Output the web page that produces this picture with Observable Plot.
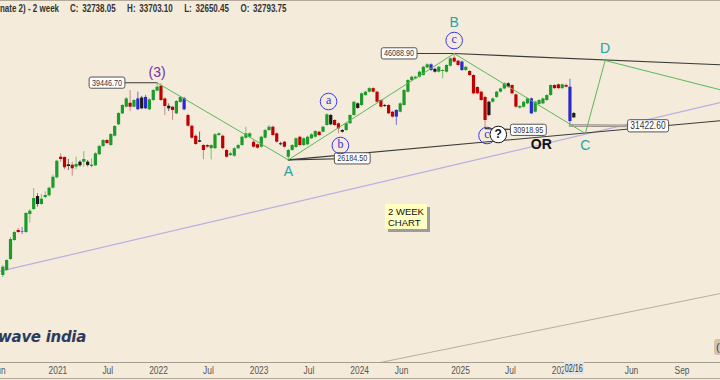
<!DOCTYPE html>
<html><head><meta charset="utf-8">
<script src="https://cdn.jsdelivr.net/npm/d3@7"></script>
<script src="https://cdn.jsdelivr.net/npm/@observablehq/plot@0.6"></script>
<style>
html,body{margin:0;padding:0;background:#f4ebda;}
#wrap{position:relative;width:720px;height:380px;overflow:hidden;background:#f4ebda;font-family:"Liberation Sans",Arial,sans-serif;}
#wrap svg{position:absolute;left:0;top:0;}
.hdr{position:absolute;top:3px;font-family:"Liberation Sans",Arial,sans-serif;font-weight:bold;font-size:10px;color:#333;white-space:nowrap;transform:scaleX(0.8);transform-origin:0 0;}
#title{left:0;}
#ohlc{left:70px;word-spacing:2px;}
#note{position:absolute;left:385px;top:204px;width:36px;height:21px;padding:2px 3px;background:#ffffc2;box-shadow:3px 3px 0 #9c9c9c;font-family:"Liberation Sans",Arial,sans-serif;font-size:9.5px;line-height:11px;color:#111;}
#logo{position:absolute;right:634px;top:328px;font-family:"DejaVu Sans",sans-serif;font-style:italic;font-weight:bold;font-size:15px;color:#2d3b60;white-space:nowrap;letter-spacing:-0.3px;}
#btn{position:absolute;left:714px;top:339px;width:10px;height:16px;background:#d9c59c;border-radius:3px;color:#3030c0;font-size:11px;line-height:16px;padding-left:2px;}
#bline{position:absolute;left:0;top:378px;width:720px;height:1px;background:#b0a898;}
</style></head>
<body><div id="wrap"></div>
<script>
// ---- candles (2-week bars, first bar date, then 14-day steps) ----
const firstBar = "2020-06-15";
const barKind = ["up","up","up","up","down","blue","up","up","up","black",
"up","up","up","up","up","down","down","black","down","up",
"black","up","black","up","up","up","up","down","up","up",
"up","up","up","down","up","blue","black","blue","up","up",
"up","down","down","black","down","up","up","blue","down","down",
"down","black","down","down","up","up","up","down","down","up",
"up","up","up","up","up","down","down","up","up","up",
"down","down","black","down","up","up","up","down","up","up",
"up","up","down","up","up","black","down","down","black","up",
"up","up","black","up","up","up","down","down","down","black",
"down","down","blue","up","up","up","up","up","up","up",
"up","blue","black","up","up","up","up","down","down","blue",
"up","down","down","down","down","down","black","up","up","up",
"up","black","down","down","up","up","up","blue","up","up",
"up","up","up","down","down","up","down","blue","black"];
const barOpen = [14154,14535,15412,17050,17981,17885,17790,19580,20107,21546,
20650,21432,21627,22520,23800,26555,26520,25500,25450,25180,
25860,25860,25860,25275,25370,26900,28110,29022,28260,29692,
31550,33440,34650,35380,34650,34190,36390,34350,34170,35902,
37730,38740,36210,34820,34650,33450,35520,36310,33149,31315,
29692,28980,28260,28260,27790,27790,29804,29692,27518,26796,
26697,27770,28260,29380,29535,28760,28370,28010,29380,30607,
31150,30075,28530,28760,26555,27518,27960,29535,28260,28370,
29290,29535,30330,30330,31432,33149,32279,31720,30607,30607,
31720,33149,35270,34960,36870,37530,38250,37530,35902,34960,
34960,33740,32870,33740,34960,37530,39932,40300,40640,41009,
42700,43410,42380,41740,41900,41740,43090,44950,44260,44050,
42113,41900,41009,38480,37530,36500,33149,35580,36500,37530,
38180,39240,38884,37000,34480,34650,35270,36210,33740,35150,
35270,35902,36870,38884,39030,38250,38884,38540,33500];
const barHigh = [14927,15410,17323,17900,18174,18270,19790,20107,22480,21860,
21776,22090,22640,24130,26130,27040,26600,26250,25860,26560,
26050,27370,26100,26320,27200,28300,29180,29200,30100,31430,
33700,35150,36500,37864,36100,37530,36700,36900,36300,38050,
39446.7,39240,36400,35270,34800,35900,36700,36500,33400,31500,
29900,30350,28400,28400,28400,30100,30250,29900,27700,27300,
27950,28450,29700,31150,30250,29000,28500,29700,30800,31432,
31350,30250,28750,28900,27700,28400,29450,29700,29450,29700,
30100,30600,30500,31300,33450,33350,32450,31900,30750,31900,
33300,35750,35450,37400,37700,38450,38450,37700,36050,35150,
35150,33900,34200,35450,38050,40150,40850,40850,41950,43050,
43650,43650,42600,43050,42300,43450,45050,46088.9,44500,44300,
43050,42100,41200,38650,37700,36700,35750,36400,37700,38350,
39450,39450,39050,37200,34950,35750,36400,36400,35750,36050,
36400,37050,39050,39050,39200,39200,39200,40190,33703.1];
const barLow = [14004,14460,15330,16960,17700,17600,17700,18700,19990,20355,
20539,21280,21500,22400,23650,25860,24840,24741,24000,24830,
25200,25180,25200,25100,25250,26800,27960,28400,28100,29550,
31400,33300,34500,33850,34500,34000,34200,34200,34000,35700,
37600,35700,33149,33850,32279,33300,35400,34000,31150,29200,
28250,28700,26190,27800,26190,27650,29650,27650,26400,26650,
26550,27650,28100,29250,29400,27850,27700,27850,29250,30450,
29650,28600,28200,27850,26184.5,27400,27800,28100,28100,28200,
29150,29400,29650,30200,31300,31400,31300,30075,30200,30450,
31600,33000,34250,34800,36700,37350,37350,35400,34500,34600,
33300,32700,31432,33600,34800,37350,39750,40100,40450,40850,
42500,41900,41550,41550,40300,41550,42900,43850,43050,41900,
41900,40800,37000,37000,35700,30918.95,32950,35400,36300,37350,
38000,38350,37000,34450,34300,34450,35100,33300,33600,35000,
35100,35700,36700,38050,38050,38050,38400,31422.6,32650.45];
const barClose = [14793,15330,17140,17790,17790,17840,19684,19926,21318,20650,
21240,21661,22520,23870,25995,26232,25100,25275,24970,25545,
25370,26232,25408,25450,27040,28110,29022,28560,29962,31265,
33500,34960,36210,34650,35902,36210,34350,36500,36020,37864,
38540,35902,34780,34350,34042,35711,36500,34170,31315,29380,
28410,28760,27518,28020,28260,29915,30075,27790,26555,27040,
27770,28260,29535,30075,30075,28010,27860,29535,30607,31150,
29804,28760,28370,28010,27518,28260,29290,28260,29290,29535,
29915,30440,29804,31150,33272,31550,31432,30880,30330,31720,
33149,35580,34420,37200,37530,38250,37530,35580,34650,34780,
33450,32870,34042,35270,37864,39932,40640,40640,41740,42850,
43410,42113,41740,42850,42113,43249,44820,44050,43249,42113,
42850,41009,37200,37200,35902,32279,35580,36210,37530,38180,
39240,38540,37200,34650,34780,35580,36210,33450,35580,35902,
36210,36870,38884,38250,38250,39030,38540,32108,32738.05];

// ---- wave structure ----
const waveDates = ["2021-12-27","2023-04-17","2024-12-09","2026-03-09","2026-04-14","2026-11-10"];
const wavePrices = [39446.7, 26184.5, 46088.9, 30123, 44413, 38005];
const waveNames = ["(3)","A","B","C","D"];
const waveNameDates = ["2021-12-27","2023-04-17","2024-12-09","2026-03-09","2026-04-14"];
const waveNamePrices = [41668, 24610, 54366, 28260, 47340];
const subNames = ["a","b","c","c"];
const subDates = ["2023-09-10","2023-10-23","2024-12-09","2025-04-07"];
const subPrices = [35711, 28260, 49399, 29804];
const askDate = "2025-05-18", askPrice = 29962;
const orDate = "2025-10-21", orPrice = 28410;

// ---- trend lines (two end points each) ----
const lowerLine = {dates: ["2023-04-17","2026-11-10"], prices: [26184.5, 32245]};
const upperLine = {dates: ["2024-12-09","2026-11-10"], prices: [46088.9, 43410]};
const purpleLine = {dates: ["2020-06-06T16:00","2026-11-10"], prices: [14481, 35522]};
const channelLine = {dates: ["2024-03-16","2026-11-10"], prices: [8910, 12862]};

// ---- price tags ----
const tagTexts = ["39446.70","46088.90","26184.50","30918.95"];
const tagDates = ["2021-06-28","2024-05-23","2023-12-05","2025-09-04"];
const tagPrices = [39446.7, 46088.9, 26370, 30690];
const tagFromDates = ["2021-12-27","2024-12-09","2023-04-17","2025-03-31"];
const tagFromPrices = [39446.7, 46088.9, 26184.5, 30918.95];
const bigTagText = "31422.60", bigTagDate = "2026-07-01", bigTagPrice = 31350;
const bigTagFromDate = "2026-02-02", bigTagFromPrice = 31422.6;

// ---- axis ----
const tickDates = ["2020-06-01","2021-01-01","2021-07-01","2022-01-01","2022-07-01","2023-01-01","2023-07-01","2024-01-01","2024-06-01","2025-01-01","2025-07-01","2026-01-01","2026-06-01","2026-09-01"];
const tickLabels = ["Jun","2021","Jul","2022","Jul","2023","Jul","2024","Jun","2025","Jul","2026","Jun","Sep"];
const cursorDate = "2026-02-16", cursorLabel = "02/16";

const D = s => new Date(s.length > 10 ? s + "Z" : s);
const bars = barOpen.map((o, i) => ({date: d3.utcDay.offset(D(firstBar), 14 * i), open: o, high: barHigh[i], low: barLow[i], close: barClose[i], kind: barKind[i]}));
const bodyColor = {up: "#1c9a2a", down: "#c00000", black: "#1a1a1a", blue: "#2a2ac8"};
const wickColor = {up: "#79c07a", down: "#c78a8a", black: "#6a6a6a", blue: "#7070e0"};
const seg = L => L.dates.map((d, i) => ({date: D(d), price: L.prices[i]}));
const wave = waveDates.map((d, i) => ({date: D(d), price: wavePrices[i]}));
const waveLbl = waveNames.map((t, i) => ({t, date: D(waveNameDates[i]), price: waveNamePrices[i]}));
const subLbl = subNames.map((t, i) => ({t, date: D(subDates[i]), price: subPrices[i]}));
const tags = tagTexts.map((t, i) => ({t, date: D(tagDates[i]), price: tagPrices[i]}));
const leaders = tagTexts.flatMap((t, i) => [{k: i, date: D(tagFromDates[i]), price: tagFromPrices[i]}, {k: i, date: D(tagDates[i]), price: tagPrices[i]}]);
const bigLeader = [{date: D(bigTagFromDate), price: bigTagFromPrice}, {date: D(bigTagDate), price: bigTagPrice}];
const labelMap = new Map(tickDates.map((d, i) => [+D(d), tickLabels[i]]));
const teal = "#25a3a8", purple = "#7a2fa8";
const sans = "'Liberation Sans', Arial, sans-serif";

const chart = Plot.plot({
  width: 720, height: 380,
  marginTop: 0, marginRight: 0, marginBottom: 18, marginLeft: 0,
  style: {background: "transparent", fontFamily: sans, overflow: "visible"},
  x: {type: "utc", domain: [D("2020-06-06T16:00"), D(cursorDate), D("2026-11-10")], range: [0, 573.3, 720]},
  y: {type: "log", domain: [8910, 61120]},
  marks: [
    Plot.ruleY([61120], {stroke: "#b3aa9a"}),
    Plot.ruleY([8910], {stroke: "#a59d8e"}),
    Plot.axisX({ticks: tickDates.map(D), tickFormat: d => labelMap.get(+d), tickSize: 0, tickPadding: 4, fontSize: 10, fill: "#555", fontFamily: sans}),
    Plot.text([D(cursorDate)], {x: d => d, frameAnchor: "bottom", dy: 9, text: () => cursorLabel, fontSize: 10, fill: "#333", fontFamily: sans}),
    Plot.line(seg(channelLine), {x: "date", y: "price", stroke: "#b9ae9c", strokeWidth: 1, clip: true}),
    Plot.line(seg(purpleLine), {x: "date", y: "price", stroke: "#b8b0e2", strokeWidth: 1.2, clip: true}),
    Plot.line(seg(lowerLine), {x: "date", y: "price", stroke: "#3a3a3a", strokeWidth: 1.1, clip: true}),
    Plot.line(seg(upperLine), {x: "date", y: "price", stroke: "#3a3a3a", strokeWidth: 1.1, clip: true}),
    Plot.line(leaders, {x: "date", y: "price", z: "k", stroke: "#3a3a3a", strokeWidth: 1.1}),
    Plot.line(bigLeader, {x: "date", y: "price", stroke: "#8a8680", strokeWidth: 2.4}),
    Plot.line(bigLeader, {x: "date", y: "price", stroke: "#d8d2c6", strokeWidth: 0.8}),
    Plot.ruleX(bars, {x: "date", y1: "low", y2: "high", stroke: d => wickColor[d.kind], strokeWidth: 1}),
    Plot.ruleX(bars, {x: "date", y1: "open", y2: "close", stroke: d => bodyColor[d.kind], strokeWidth: 3.2}),
    Plot.line(wave, {x: "date", y: "price", stroke: "#5cb85a", strokeWidth: 1, clip: true}),
    Plot.text(tags, {x: "date", y: "price", text: "t", fontSize: 8.8, fill: "#333", fontFamily: sans}),
    Plot.text([bigTagText], {x: () => D(bigTagDate), y: () => bigTagPrice, text: d => d, fontSize: 10.3, fill: "#333", fontFamily: sans}),
    Plot.text(waveLbl, {x: "date", y: "price", text: "t", fontSize: 14, fill: d => d.t === "(3)" ? purple : teal}),
    Plot.dot(subLbl, {x: "date", y: "price", r: 8.3, stroke: "#3838f0", fill: "none", strokeWidth: 1}),
    Plot.text(subLbl, {x: "date", y: "price", text: "t", fontSize: 12, fill: "#3030e0", fontFamily: "'Liberation Serif', 'DejaVu Serif', serif", dy: -1}),
    Plot.dot([askPrice], {x: () => D(askDate), y: d => d, r: 8.3, stroke: "#111", fill: "#ffffff", strokeWidth: 1}),
    Plot.text([askPrice], {x: () => D(askDate), y: d => d, text: () => "?", fontSize: 12, fontWeight: "bold", fill: "#111"}),
    Plot.text([orPrice], {x: () => D(orDate), y: d => d, text: () => "OR", fontSize: 14, fontWeight: "bold", fill: "#111"})
  ]
});

const wrap = document.getElementById("wrap");
wrap.appendChild(chart);
const NS = "http://www.w3.org/2000/svg";
const plain = t => !t.querySelector("tspan");
function squeeze(texts, f) {
  chart.querySelectorAll("text").forEach(t => {
    if (!texts.includes(t.textContent) || !plain(t)) return;
    const w = t.getComputedTextLength();
    t.setAttribute("textLength", (w * f).toFixed(2));
    t.setAttribute("lengthAdjust", "spacingAndGlyphs");
  });
}
function boxes(texts, fill, stroke, padX, padY) {
  chart.querySelectorAll("text").forEach(t => {
    if (!texts.includes(t.textContent) || !plain(t)) return;
    const b = t.getBBox();
    const r = document.createElementNS(NS, "rect");
    r.setAttribute("x", b.x - padX); r.setAttribute("y", b.y - padY);
    r.setAttribute("width", b.width + 2 * padX); r.setAttribute("height", b.height + 2 * padY);
    r.setAttribute("rx", 2);
    r.setAttribute("fill", fill);
    if (stroke) { r.setAttribute("stroke", stroke); r.setAttribute("stroke-width", 1); }
    const tr = t.getAttribute("transform"); if (tr) r.setAttribute("transform", tr);
    t.parentNode.insertBefore(r, t);
  });
}
squeeze(tickLabels, 0.84);
squeeze([cursorLabel], 0.72);
squeeze([...tagTexts, bigTagText], 0.82);
boxes([...tagTexts, bigTagText], "#ffffff", "#555555", 2.8, 0.6);
boxes([cursorLabel], "#dfe4ea", null, 1, 1);

wrap.insertAdjacentHTML("beforeend",
  '<div class="hdr" id="title"><span id="tpre">(Alter</span><span>nate 2) - 2 week</span></div>' +
  '<div class="hdr" id="ohlc">C: 32738.05&nbsp;&nbsp; H: 33703.10&nbsp;&nbsp; L: 32650.45&nbsp;&nbsp; O: 32793.75</div>' +
  '<div id="note">2 WEEK<br>CHART</div>' +
  '<div id="logo">wave india</div>' +
  '<div id="btn">(</div>' +
  '<div id="bline"></div>');
const tpre = document.getElementById("tpre");
document.getElementById("title").style.left = (-tpre.getBoundingClientRect().width) + "px";
</script>
</body></html>
